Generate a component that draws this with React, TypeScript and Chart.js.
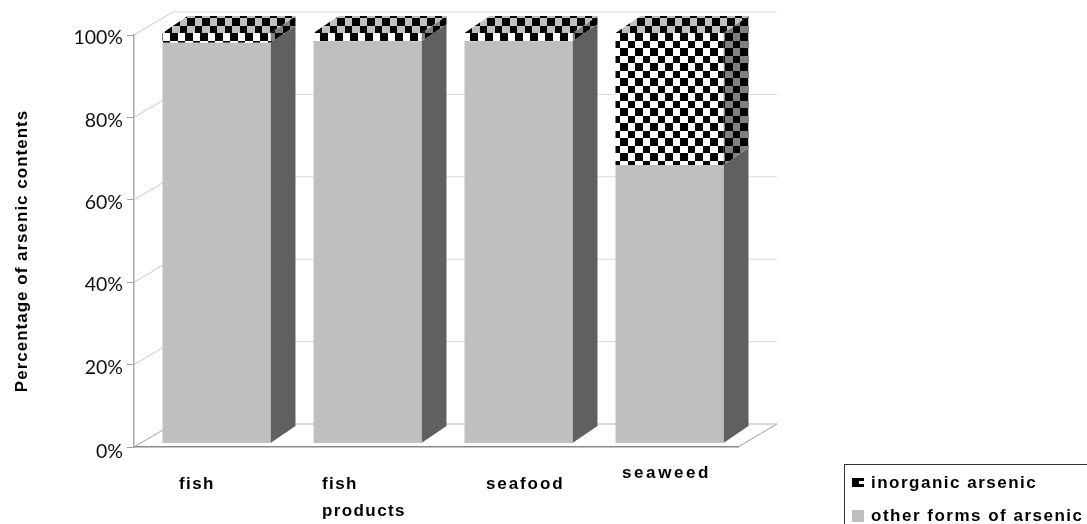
import React, { useEffect, useRef } from "react";
import { Chart, registerables } from "chart.js";

Chart.register(...registerables);

const categories = ["fish", "fish products", "seafood", "seaweed"];
const otherForms = [97.6, 98, 98, 67.8];
const inorganic = [2.4, 2, 2, 32.2];
const yTicks = [0, 20, 40, 60, 80, 100];
const yTitle = "Percentage of arsenic contents";
const legendInorganic = "inorganic arsenic";
const legendOther = "other forms of arsenic";

const labelLines = [["fish"], ["fish", "products"], ["seafood"], ["seaweed"]];
const labelDx = [-30.5, -38.5, -25.5, -40.5];
const labelY = [489, 489, 489, 478];
const labelSpacing = [1.4, 1.4, 1.9, 2.6];

const GREY = "#bfbfbf";
const SIDE = "#606060";
const AXIS = "#a0a0a0";
const GRID = "#d9d9d9";
const DEPTH_X = 39;
const DEPTH_Y = 23;
const BAR_DX = 7;
const BAR_SIDE_X = 25;
const BAR_SIDE_Y = 17;
const BOLD = 'bold 17px "Liberation Sans", Arial, sans-serif';

function checker(light: string, ctx: CanvasRenderingContext2D, ox: number, oy: number) {
  const c = document.createElement("canvas");
  c.width = 15;
  c.height = 15;
  const g = c.getContext("2d")!;
  g.fillStyle = light;
  g.fillRect(0, 0, 15, 15);
  g.fillStyle = "#000";
  g.fillRect(0, 0, 8, 8);
  g.fillRect(8, 8, 7, 7);
  const p = ctx.createPattern(c, "repeat")!;
  p.setTransform(new DOMMatrix().translate(ox, oy));
  return p;
}

function poly(ctx: CanvasRenderingContext2D, pts: number[][], fill: any) {
  ctx.beginPath();
  pts.forEach((p, i) => (i ? ctx.lineTo(p[0], p[1]) : ctx.moveTo(p[0], p[1])));
  ctx.closePath();
  ctx.fillStyle = fill;
  ctx.fill();
}

function line(ctx: CanvasRenderingContext2D, x1: number, y1: number, x2: number, y2: number, color: string, w = 1) {
  ctx.beginPath();
  ctx.moveTo(x1, y1);
  ctx.lineTo(x2, y2);
  ctx.strokeStyle = color;
  ctx.lineWidth = w;
  ctx.stroke();
}

export default function App() {
  const ref = useRef<HTMLCanvasElement>(null);
  useEffect(() => {
    const canvas = ref.current!;
    const ctx0 = canvas.getContext("2d")!;
    const frontPat = checker("#ffffff", ctx0, -2, 3);
    const topPat = checker(GREY, ctx0, 0, 3);
    const sidePat = checker("#808080", ctx0, -2, 3);

    const threeD = {
      id: "threeD",
      beforeDraw(chart: any) {
        // tick labels sit slightly below their tick marks
        const y = chart.scales.y;
        y._labelItems = null;
        const items = y.getLabelItems(chart.chartArea);
        items.forEach((it: any) => {
          const shift = it.label === "0%" ? 5 : 3;
          it.options.translation = [it.options.translation[0], it.options.translation[1] + shift];
        });
      },
      beforeDatasetsDraw(chart: any) {
        const { ctx, chartArea: a, scales } = chart;
        const y = scales.y;
        ctx.save();
        // back wall grid, side wall and floor edges
        yTicks.forEach((t) => {
          const py = y.getPixelForValue(t);
          line(ctx, a.left + DEPTH_X, py - DEPTH_Y, a.right + DEPTH_X, py - DEPTH_Y, t === 0 ? "#b5b5b5" : GRID);
          line(ctx, a.left, py, a.left + DEPTH_X, py - DEPTH_Y, t === 0 ? "#a0a0a0" : "#c8c8c8");
        });
        const bot = y.getPixelForValue(0);
        line(ctx, a.right, bot, a.right + DEPTH_X, bot - DEPTH_Y, "#a0a0a0");
        ctx.restore();
        ctx.save();
        ctx.translate(BAR_DX, 0);
        const m0 = chart.getDatasetMeta(0).data;
        const m1 = chart.getDatasetMeta(1).data;
        m0.forEach((b: any, i: number) => {
          const l = b.x - b.width / 2;
          const r = b.x + b.width / 2;
          const t = m1[i];
          const dx = BAR_SIDE_X;
          const dy = BAR_SIDE_Y;
          poly(ctx, [[r, b.base], [r + dx, b.base - dy], [r + dx, b.y - dy], [r, b.y]], SIDE);
          poly(ctx, [[r, t.base], [r + dx, t.base - dy], [r + dx, t.y - dy], [r, t.y]], sidePat);
          poly(ctx, [[l, t.y], [l + dx, t.y - dy], [r + dx, t.y - dy], [r, t.y]], topPat);
        });
      },
      afterDatasetsDraw(chart: any) {
        const { ctx, scales } = chart;
        ctx.restore();
        ctx.save();
        // category labels
        ctx.font = BOLD;
        ctx.fillStyle = "#000";
        ctx.textAlign = "left";
        ctx.textBaseline = "alphabetic";
        labelLines.forEach((lines, i) => {
          (ctx as any).letterSpacing = labelSpacing[i] + "px";
          const px = scales.x.getPixelForTick(i) + labelDx[i];
          lines.forEach((s, k) => ctx.fillText(s, px, labelY[i] + k * 27));
        });
        // axis title
        ctx.save();
        ctx.translate(26.5, 251);
        ctx.rotate(-Math.PI / 2);
        ctx.textAlign = "center";
        ctx.font = BOLD;
        (ctx as any).letterSpacing = "1px";
        ctx.fillText(yTitle, 0, 0);
        ctx.restore();
        // legend
        (ctx as any).letterSpacing = "1.5px";
        ctx.strokeStyle = "#333";
        ctx.lineWidth = 1;
        ctx.strokeRect(844.5, 464.5, 300, 100);
        ctx.fillStyle = "#000";
        ctx.fillRect(852, 478, 12, 9);
        ctx.fillStyle = "#fff";
        ctx.fillRect(859, 481, 5, 3);
        ctx.fillStyle = GREY;
        ctx.fillRect(852, 510, 12, 12);
        ctx.fillStyle = "#000";
        ctx.fillText(legendInorganic, 871, 488);
        ctx.fillText(legendOther, 871, 521);
        ctx.restore();
      },
    };

    const chart = new Chart(canvas, {
      type: "bar",
      data: {
        labels: categories,
        datasets: [
          { label: legendOther, data: otherForms, backgroundColor: GREY, yAxisID: "yBars", clip: false as any, borderWidth: 0 },
          { label: legendInorganic, data: inorganic, backgroundColor: frontPat as any, yAxisID: "yBars", clip: false as any, borderWidth: 0 },
        ],
      },
      options: {
        animation: false,
        responsive: false,
        devicePixelRatio: 1,
        layout: { padding: { left: 0, top: 35, right: 349, bottom: 77 } },
        plugins: { legend: { display: false }, tooltip: { enabled: false } },
        datasets: { bar: { categoryPercentage: 1, barPercentage: 0.715 } },
        scales: {
          x: {
            stacked: true,
            grid: { display: false },
            border: { display: true, color: "#8a8a8a", width: 1.5 },
            ticks: { display: false },
            afterFit(s: any) { s.height = 0; },
          },
          y: {
            min: 0,
            max: 100,
            afterFit(s: any) { s.width = 134; },
            afterBuildTicks(s: any) { s.ticks = yTicks.map((value) => ({ value })); },
            grid: { drawOnChartArea: false, drawTicks: true, tickLength: 7, color: AXIS },
            border: { display: true, color: "#a8a8a8", width: 1.5 },
            ticks: {
              padding: 4,
              color: "#111",
              font: { family: "Lato", size: 19.5 },
              callback: (v: any) => v + "%",
            },
          },
          yBars: { display: false, stacked: true, min: -0.976, max: 99.5 },
        },
      } as any,
      plugins: [threeD],
    });
    return () => chart.destroy();
  }, []);
  return (
    <div style={{ position: "fixed", left: 0, top: 0, width: 1087, height: 524, background: "#fff" }}>
      <canvas ref={ref} width={1087} height={524} style={{ display: "block" }} />
    </div>
  );
}
